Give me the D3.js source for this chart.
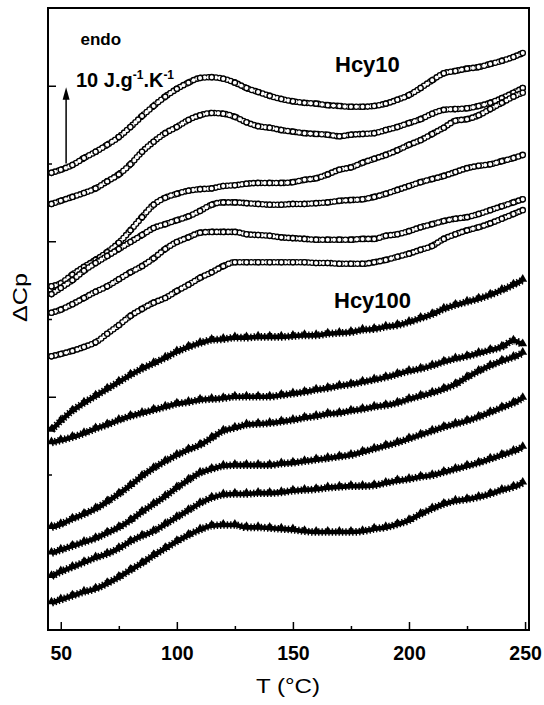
<!DOCTYPE html>
<html><head><meta charset="utf-8">
<script src="https://cdn.jsdelivr.net/npm/d3@7"></script>
<style>body{margin:0;background:#fff}svg{display:block}</style>
</head><body>
<svg id="c" width="544" height="705"></svg>
<script>
// Temperature grid (°C)
const temps = [46,50,55,60,65,70,75,80,85,90,95,100,105,110,115,120,125,130,135,140,145,150,155,160,165,170,175,180,185,190,195,200,205,210,215,220,225,230,235,240,245,249];

// Hcy10 series (open circles), ΔCp in J.g-1.K-1 (stacked, arbitrary offsets)
const hcy10_1 = [58.8,59.2,59.8,60.7,61.5,62.4,63.4,64.7,66.1,67.4,68.6,69.6,70.4,71.0,71.1,70.9,70.4,69.7,69.2,68.7,68.3,68.0,67.8,67.7,67.5,67.4,67.3,67.3,67.4,67.7,68.2,68.8,69.7,70.7,71.6,71.9,72.2,72.4,72.8,73.2,73.7,74.2];
const hcy10_2 = [54.8,55.2,55.7,56.2,56.8,57.7,58.6,59.9,61.5,62.8,63.9,64.7,65.6,66.2,66.5,66.4,66.0,65.3,64.8,64.6,64.3,64.1,63.9,63.8,63.7,63.5,63.7,63.8,63.9,64.3,64.7,65.2,65.7,66.4,66.9,67.0,67.1,67.4,67.8,68.4,69.1,69.7];
const hcy10_3 = [44.2,44.6,45.7,46.7,47.6,48.6,49.8,51.4,53.1,54.7,55.6,56.1,56.5,56.7,56.8,57.1,57.2,57.4,57.5,57.5,57.5,57.6,57.9,58.1,58.6,59.2,59.5,60.1,60.6,61.1,61.7,62.4,63.0,63.8,64.6,65.5,65.7,66.2,67.0,67.8,68.6,69.1];
const hcy10_4 = [43.2,44.0,45.0,46.2,47.2,48.1,49.0,49.9,50.8,51.7,52.2,52.7,53.2,53.9,54.7,55.0,55.0,54.9,54.8,54.7,54.7,54.8,54.8,54.9,55.0,55.2,55.3,55.4,55.7,56.1,56.6,57.1,57.6,58.0,58.4,58.9,59.4,59.7,59.9,60.3,60.7,61.1];
const hcy10_5 = [40.8,41.2,41.9,42.7,43.5,44.2,45.1,46.0,46.8,47.8,49.0,49.9,50.5,51.1,51.2,51.2,51.2,50.9,50.8,50.7,50.5,50.4,50.3,50.2,50.2,50.2,50.2,50.3,50.3,50.7,50.9,51.3,51.8,52.2,52.6,52.9,53.1,53.5,54.0,54.5,55.0,55.4];
const hcy10_6 = [35.2,35.5,35.9,36.4,37.0,38.1,39.2,40.4,41.3,42.1,42.7,43.6,44.4,45.3,46.0,46.8,47.3,47.3,47.3,47.3,47.3,47.3,47.3,47.2,47.2,47.1,47.1,47.1,47.3,47.6,48.0,48.4,48.9,49.4,50.3,50.9,51.4,51.8,52.3,52.9,53.5,54.0];

// Hcy100 series (filled triangles)
const hcy100_1 = [25.7,26.9,28.2,29.2,30.1,31.0,31.9,32.8,33.6,34.3,35.0,35.8,36.4,36.9,37.3,37.4,37.6,37.6,37.7,37.7,37.7,37.8,37.9,37.9,38.1,38.2,38.3,38.6,38.7,39.0,39.2,39.6,40.1,40.6,41.3,41.8,42.2,42.6,43.1,43.7,44.4,45.0];
const hcy100_2 = [24.1,24.4,24.8,25.3,25.9,26.4,27.0,27.5,27.9,28.3,28.7,29.1,29.3,29.6,29.7,29.8,30.0,30.0,30.0,30.0,30.2,30.4,30.6,30.9,31.1,31.4,31.6,31.9,32.2,32.5,32.9,33.3,33.6,34.0,34.5,34.9,35.2,35.6,36.0,36.4,37.2,36.7];
const hcy100_3 = [13.2,13.6,14.3,14.9,15.6,16.5,17.5,18.6,19.8,20.8,21.7,22.5,23.2,23.8,24.7,25.6,26.0,26.4,26.5,26.6,26.8,27.0,27.3,27.5,27.8,27.9,28.2,28.4,28.7,28.9,29.2,29.7,30.1,30.5,31.0,31.6,32.5,33.3,34.0,34.6,35.1,35.6];
const hcy100_4 = [9.9,10.3,10.8,11.3,11.8,12.5,13.2,14.1,15.2,16.2,17.2,18.3,19.3,20.2,20.7,21.1,21.2,21.2,21.2,21.2,21.4,21.5,21.7,21.9,22.1,22.3,22.5,22.9,23.3,23.7,24.1,24.6,25.1,25.6,26.1,26.5,26.9,27.4,28.0,28.6,29.2,29.8];
const hcy100_5 = [6.9,7.5,8.1,8.7,9.3,9.8,10.5,11.4,12.1,12.7,13.6,14.5,15.4,16.3,17.0,17.4,17.5,17.5,17.6,17.6,17.7,17.9,18.0,18.1,18.3,18.4,18.5,18.5,18.6,18.9,19.2,19.4,19.7,19.9,20.3,20.7,21.1,21.5,22.0,22.5,23.0,23.5];
const hcy100_6 = [3.5,3.9,4.4,4.9,5.3,6.0,6.8,7.7,8.6,9.6,10.5,11.4,12.2,12.9,13.4,13.5,13.5,13.2,13.2,13.1,13.0,12.9,12.7,12.6,12.6,12.6,12.6,12.7,13.0,13.2,13.6,14.1,14.9,15.6,16.2,16.6,16.8,17.1,17.5,18.0,18.4,18.9];

// Axis ticks
const xMajorTicks = [50,100,150,200,250];
const xMinorTicks = [75,125,175,225];
const yMajorTicks = [10,30,50,70];
const yMinorTicks = [20,40,60];

// Scale bar: 10 J.g-1.K-1 arrow
const scaleBarT = 52.3, scaleBarFrom = 60, scaleBarTo = 70;

const hcy10 = [hcy10_1,hcy10_2,hcy10_3,hcy10_4,hcy10_5,hcy10_6];
const hcy100 = [hcy100_1,hcy100_2,hcy100_3,hcy100_4,hcy100_5,hcy100_6];

const W = 544, H = 705;
const FONT = "'Liberation Sans', Arial, Helvetica, sans-serif";
const L = 48, R = 529, T = 8, B = 630;
const x = d3.scaleLinear().domain([44.5, 251.7]).range([L, R]);
const y = d3.scaleLinear().domain([0, 80]).range([B, T]);

const svg = d3.select('#c');
svg.append('rect').attr('width', W).attr('height', H).attr('fill', '#fff');

const line = d3.line().x((d, i) => x(temps[i])).y(d => y(d)).curve(d3.curveMonotoneX);

// Hcy100: filled triangles
hcy100.forEach(vals => {
  const g = svg.append('g');
  g.append('path').attr('d', line(vals)).attr('fill', 'none')
    .attr('stroke', '#000').attr('stroke-width', 4.6).attr('stroke-linejoin', 'round');
  g.append('path').attr('d', line(vals)).attr('fill', 'none')
    .attr('stroke', '#000').attr('stroke-width', 7.6).attr('stroke-dasharray', '1.4 2.0');
  g.selectAll('path.m').data(vals).join('path').attr('class', 'm')
    .attr('transform', (d, i) => `translate(${x(temps[i])},${y(d) - 1})`)
    .attr('d', d3.symbol().type(d3.symbolTriangle).size(34))
    .attr('fill', '#000');
});

// Hcy10: open circles
hcy10.forEach(vals => {
  const g = svg.append('g');
  g.append('path').attr('d', line(vals)).attr('fill', 'none')
    .attr('stroke', '#000').attr('stroke-width', 6.6).attr('stroke-linecap', 'round')
    .attr('stroke-dasharray', '0 3.8');
  g.append('path').attr('d', line(vals)).attr('fill', 'none')
    .attr('stroke', '#fff').attr('stroke-width', 3.9).attr('stroke-linecap', 'round')
    .attr('stroke-dasharray', '0 3.8');
  g.selectAll('circle').data(vals).join('circle')
    .attr('cx', (d, i) => x(temps[i])).attr('cy', d => y(d)).attr('r', 2.65)
    .attr('fill', '#fff').attr('stroke', '#000').attr('stroke-width', 1.35);
});

// Axes (ticks inside)
function styleAxis(g) {
  g.select('.domain').remove();
  g.selectAll('.tick line').attr('stroke', '#000').attr('stroke-width', 1.5);
  g.selectAll('text').attr('font-family', FONT).attr('font-weight', 'bold')
    .attr('font-size', 19.5).attr('fill', '#000');
}
svg.append('g').attr('transform', `translate(0,${B})`)
  .call(d3.axisBottom(x).tickValues(xMajorTicks).tickSizeInner(-8).tickSizeOuter(0).tickPadding(16).tickFormat(d3.format('d')))
  .call(styleAxis);
svg.append('g').attr('transform', `translate(0,${B})`)
  .call(d3.axisBottom(x).tickValues(xMinorTicks).tickSizeInner(-4).tickSizeOuter(0).tickFormat(''))
  .call(styleAxis);
svg.append('g').attr('transform', `translate(${L},0)`)
  .call(d3.axisLeft(y).tickValues(yMajorTicks).tickSizeInner(-8).tickSizeOuter(0).tickFormat(''))
  .call(styleAxis);
svg.append('g').attr('transform', `translate(${L},0)`)
  .call(d3.axisLeft(y).tickValues(yMinorTicks).tickSizeInner(-4).tickSizeOuter(0).tickFormat(''))
  .call(styleAxis);

// Frame
svg.append('rect').attr('x', L).attr('y', T).attr('width', R - L).attr('height', B - T)
  .attr('fill', 'none').attr('stroke', '#000').attr('stroke-width', 2);

// Axis titles
svg.append('text').attr('x', 256).attr('y', 693)
  .attr('font-family', FONT).attr('font-size', 20)
  .attr('textLength', 64).attr('lengthAdjust', 'spacingAndGlyphs').text('T (°C)');
svg.append('text').attr('transform', 'translate(27,322) rotate(-90)')
  .attr('font-family', FONT).attr('font-size', 20)
  .attr('textLength', 49).attr('lengthAdjust', 'spacingAndGlyphs').text('ΔCp');

// Annotations
svg.append('text').attr('x', 80.5).attr('y', 45).attr('font-family', FONT)
  .attr('font-size', 17).attr('font-weight', 'bold').text('endo');
const lab = svg.append('text').attr('x', 76).attr('y', 86.7).attr('font-family', FONT)
  .attr('font-size', 20).attr('font-weight', 'bold');
lab.append('tspan').text('10 J.g');
lab.append('tspan').attr('font-size', 12).attr('dy', -8).text('-1');
lab.append('tspan').attr('dy', 8).text('.K');
lab.append('tspan').attr('font-size', 12).attr('dy', -8).text('-1');

svg.append('text').attr('x', 335).attr('y', 71.7).attr('font-family', FONT)
  .attr('font-size', 22).attr('font-weight', 'bold').text('Hcy10');
svg.append('text').attr('x', 334).attr('y', 308).attr('font-family', FONT)
  .attr('font-size', 22).attr('font-weight', 'bold').text('Hcy100');

// Scale arrow
const ax = x(scaleBarT);
svg.append('line').attr('x1', ax).attr('x2', ax).attr('y1', y(scaleBarFrom)).attr('y2', y(scaleBarTo) + 10)
  .attr('stroke', '#000').attr('stroke-width', 1.5);
svg.append('path')
  .attr('d', `M${ax},${y(scaleBarTo) + 1.5} L${ax - 3.5},${y(scaleBarTo) + 14} L${ax + 3.5},${y(scaleBarTo) + 14} Z`)
  .attr('fill', '#000');
</script>
</body></html>
